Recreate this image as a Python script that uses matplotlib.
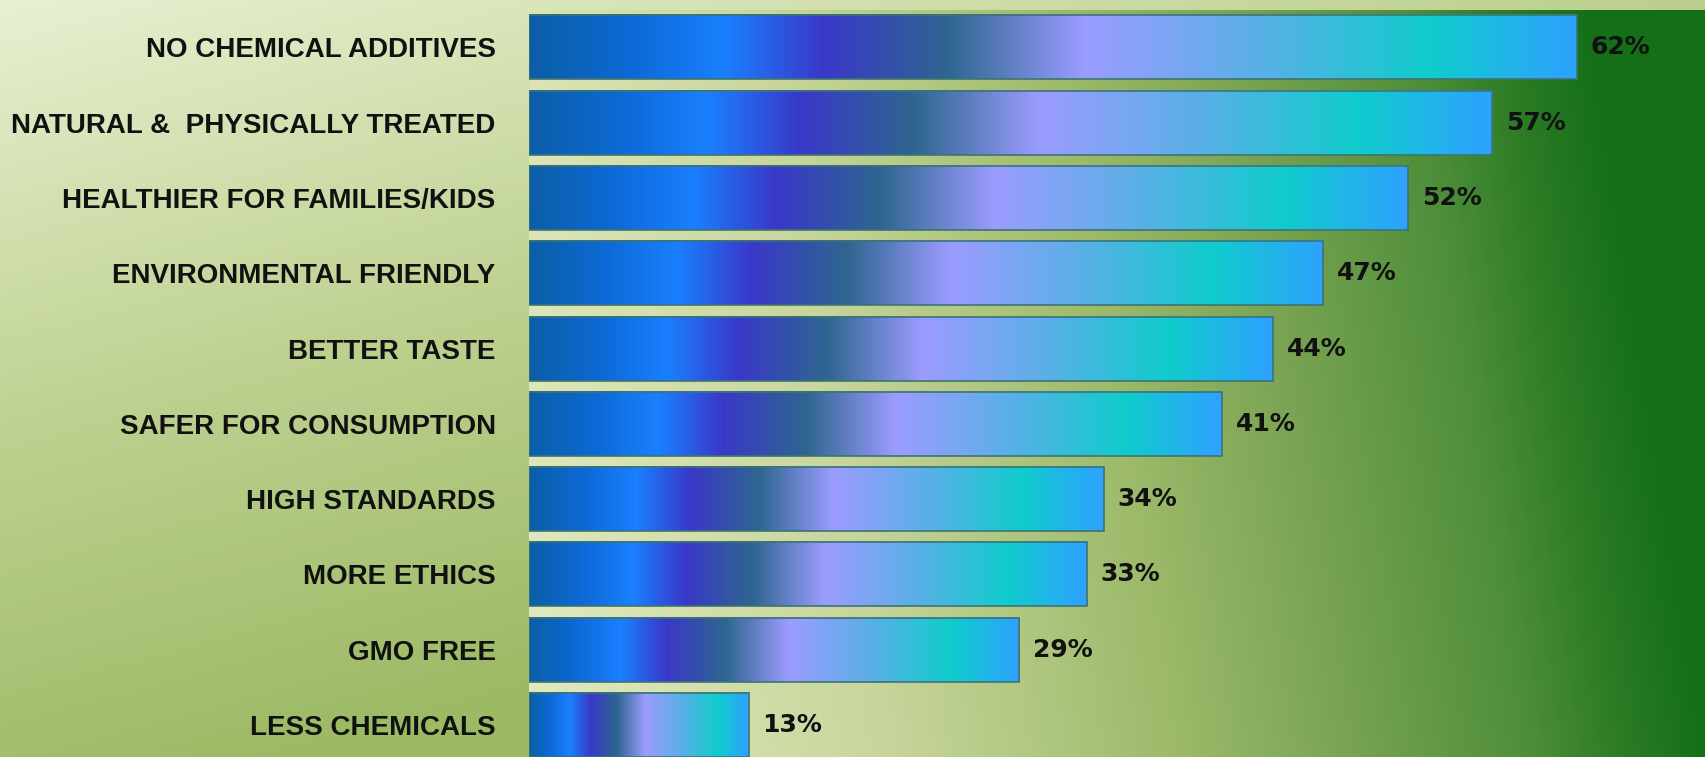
import numpy as np
import matplotlib
matplotlib.use("Agg")
import matplotlib.pyplot as plt
from matplotlib.colors import LinearSegmentedColormap, to_rgb
from matplotlib import font_manager

categories = ["NO CHEMICAL ADDITIVES", "NATURAL &  PHYSICALLY TREATED",
              "HEALTHIER FOR FAMILIES/KIDS", "ENVIRONMENTAL FRIENDLY",
              "BETTER TASTE", "SAFER FOR CONSUMPTION", "HIGH STANDARDS",
              "MORE ETHICS", "GMO FREE", "LESS CHEMICALS"]
values = [62, 57, 52, 47, 44, 41, 34, 33, 29, 13]
value_labels = ["62%", "57%", "52%", "47%", "44%", "41%", "34%", "33%", "29%", "13%"]

bar_stops = [(0.0, "#0b5ea6"), (0.10, "#0d6ad8"), (0.185, "#1a80ff"),
             (0.28, "#3a38c8"), (0.40, "#2e6690"), (0.53, "#9c9cff"),
             (0.70, "#58b0e6"), (0.86, "#10cccc"), (1.0, "#2ea2ff")]
plot_stops = [(0.0, "#e2eac0"), (0.3, "#c8d69c"), (0.55, "#9cba6a"),
              (0.7, "#78a352"), (0.85, "#4e8e3a"), (0.93, "#2c7b25"),
              (1.0, "#147018")]
outer_stops = [(0.0, "#e8f0d2"), (0.5, "#bfd292"), (1.0, "#9cb964")]


def ramp(stops, s):
    pos = [p for p, _ in stops]
    cols = np.array([to_rgb(c) for _, c in stops])
    return np.stack([np.interp(s, pos, cols[:, k]) for k in range(3)], axis=-1)


names = {f.name for f in font_manager.fontManager.ttflist}
if "Liberation Sans Narrow" in names:
    label_font, label_size = "Liberation Sans Narrow", 24
else:
    label_font, label_size = "Liberation Sans", 20

fig = plt.figure(figsize=(17.06, 7.57), dpi=100)

# outer chart background
bg = fig.add_axes([0, 0, 1, 1], zorder=-10)
u, v = np.meshgrid(np.linspace(0, 1, 400), np.linspace(1, 0, 200))
bg.imshow(ramp(outer_stops, np.clip(0.55 * u + 0.9 * (1 - v), 0, 1)),
          extent=(0, 1, 0, 1), aspect="auto", origin="upper")
bg.set_axis_off()

ax = fig.add_axes([529 / 1706, 0, 1 - 529 / 1706, 1 - 9.7 / 757])
ax.set_facecolor("none")

# plot area background
pu, pv = np.meshgrid(np.linspace(0, 1, 600), np.linspace(1, 0, 200))
ax.imshow(ramp(plot_stops, np.clip(pu + 0.1 * pv, 0, 1)),
          extent=(0, 1, 0, 1), transform=ax.transAxes, aspect="auto",
          origin="upper", zorder=0)

cmap = LinearSegmentedColormap.from_list("bars", bar_stops)
grad = np.linspace(0, 1, 512).reshape(1, -1)
height = 0.85
y = np.arange(len(categories))
for i, val in enumerate(values):
    ax.imshow(grad, cmap=cmap, aspect="auto",
              extent=(0, val, i + height / 2, i - height / 2), zorder=2)
ax.barh(y, values, height=height, facecolor="none", edgecolor="#3d7472",
        linewidth=1.2, zorder=3)

for i, val in enumerate(values):
    ax.annotate(value_labels[i], (val, i), xytext=(10, 0),
                textcoords="offset points", va="center", ha="left",
                fontsize=18, fontweight="bold", color="#111111",
                family="DejaVu Sans", zorder=4)

ax.set_yticks(y)
ax.set_yticklabels(categories, fontsize=label_size, fontweight="bold",
                   color="#111111", family=label_font)
ax.tick_params(axis="y", length=0, pad=24)
ax.set_xticks([])
for s in ax.spines.values():
    s.set_visible(False)
ax.set_xlim(0, (1706 - 529) / 16.9)
ax.set_ylim(len(categories) - 1 + height / 2, -0.5)

fig.savefig("out.png", dpi=100)
